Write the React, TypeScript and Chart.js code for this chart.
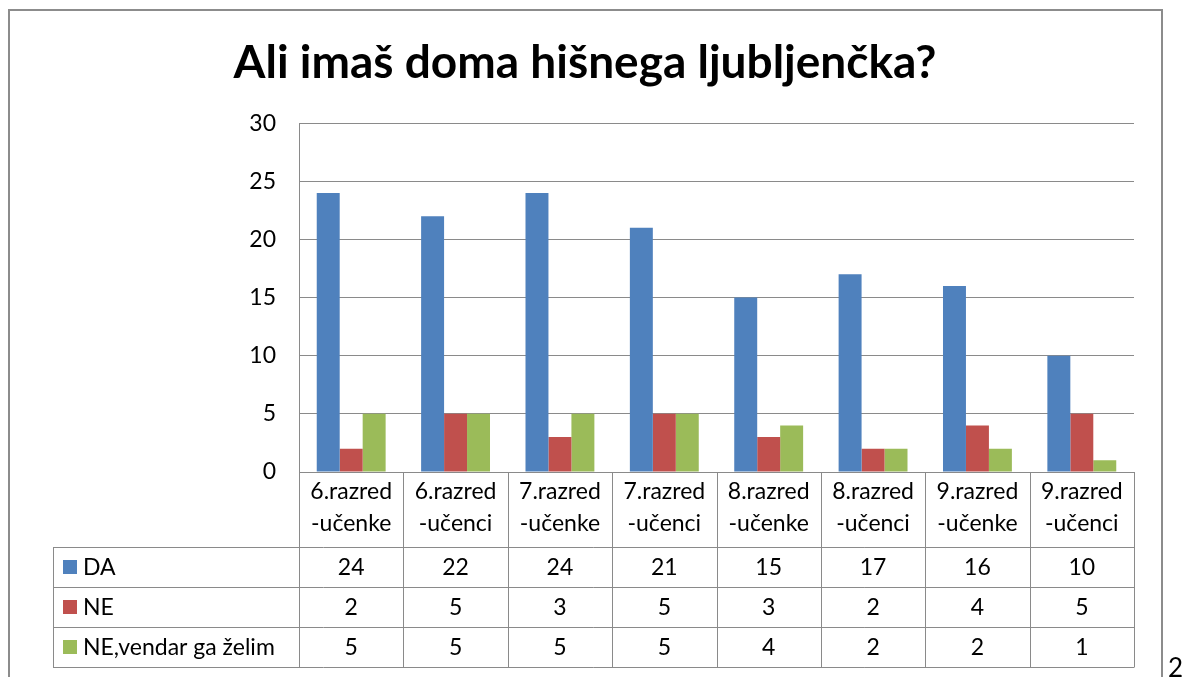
import { useEffect, useRef } from "react";
import { Chart, registerables } from "chart.js";

Chart.register(...registerables);

const titleText = "Ali imaš doma hišnega ljubljenčka?";
const categories: string[][] = [
  ["6.razred", "-učenke"],
  ["6.razred", "-učenci"],
  ["7.razred", "-učenke"],
  ["7.razred", "-učenci"],
  ["8.razred", "-učenke"],
  ["8.razred", "-učenci"],
  ["9.razred", "-učenke"],
  ["9.razred", "-učenci"],
];
const seriesNames = ["DA", "NE", "NE,vendar ga želim"];
const daValues = [24, 22, 24, 21, 15, 17, 16, 10];
const neValues = [2, 5, 3, 5, 3, 2, 4, 5];
const zelimValues = [5, 5, 5, 5, 4, 2, 2, 1];
const seriesColors = ["#4F81BD", "#C0504D", "#9BBB59"];
const yMin = 0;
const yMax = 30;
const yStep = 5;
const pageNumber = "2";

const FONT = "Lato, 'Open Sans', sans-serif";
const LINE = "#8a8a8a";

const tablePlugin = {
  id: "dataTable",
  afterDraw(chart: any) {
    const { ctx, chartArea, scales } = chart;
    const x = scales.x;
    const n = categories.length;
    const bounds: number[] = [];
    for (let i = 0; i <= n; i++) bounds.push(x.getPixelForValue(i - 0.5));
    const headerH = 75;
    const rowH = 40;
    const tableLeft = 53;
    const top = chartArea.bottom;
    const rowTops = [top + headerH, top + headerH + rowH, top + headerH + 2 * rowH];
    const bottom = top + headerH + 3 * rowH;
    const data = [daValues, neValues, zelimValues];

    ctx.save();
    ctx.strokeStyle = LINE;
    ctx.lineWidth = 1;
    ctx.beginPath();
    bounds.forEach((b) => {
      const bx = Math.round(b) + 0.5;
      ctx.moveTo(bx, top);
      ctx.lineTo(bx, bottom);
    });
    [...rowTops, bottom].forEach((ry) => {
      const yy = Math.round(ry) + 0.5;
      ctx.moveTo(tableLeft, yy);
      ctx.lineTo(Math.round(bounds[n]) + 0.5, yy);
    });
    ctx.moveTo(tableLeft + 0.5, rowTops[0]);
    ctx.lineTo(tableLeft + 0.5, bottom);
    ctx.stroke();

    ctx.font = `23px ${FONT}`;
    ctx.fillStyle = "#000";
    ctx.textBaseline = "middle";
    data.forEach((vals, r) => {
      const cy = rowTops[r] + rowH / 2;
      ctx.textAlign = "center";
      vals.forEach((v, i) => {
        ctx.fillText(String(v), (bounds[i] + bounds[i + 1]) / 2, cy + 1);
      });
      ctx.fillStyle = seriesColors[r];
      ctx.fillRect(tableLeft + 10, cy - 7, 14, 14);
      ctx.fillStyle = "#000";
      ctx.textAlign = "left";
      ctx.fillText(seriesNames[r], tableLeft + 30, cy + 1);
    });

    // outer frame and page number
    ctx.strokeStyle = "#8c8c8c";
    ctx.lineWidth = 2;
    ctx.strokeRect(9, 10, 1153, 700);
    ctx.font = `26px ${FONT}`;
    ctx.textAlign = "left";
    ctx.textBaseline = "top";
    ctx.fillStyle = "#000";
    ctx.fillText(pageNumber, 1168, 656);
    ctx.restore();
  },
};

export default function App() {
  const ref = useRef<HTMLCanvasElement | null>(null);
  useEffect(() => {
    if (!ref.current) return;
    const chart = new Chart(ref.current, {
      type: "bar",
      data: {
        labels: categories,
        datasets: [daValues, neValues, zelimValues].map((d, i) => ({
          label: seriesNames[i],
          data: d,
          backgroundColor: seriesColors[i],
          borderWidth: 0,
          barPercentage: 1,
          categoryPercentage: 0.66,
        })),
      },
      options: {
        animation: false,
        responsive: false,
        devicePixelRatio: 1,
        layout: { padding: { left: 36, right: 48, top: 0, bottom: 0 } },
        plugins: {
          legend: { display: false },
          tooltip: { enabled: false },
          title: {
            display: true,
            text: titleText,
            color: "#000",
            font: { family: FONT, size: 46, weight: "bold", lineHeight: 1.2 },
            padding: { top: 36, bottom: 32 },
          },
        },
        scales: {
          x: {
            grid: { display: false, drawTicks: false },
            border: { display: true, color: LINE },
            ticks: {
              color: "#000",
              font: { family: FONT, size: 23, lineHeight: "32px" },
              padding: 4,
              autoSkip: false,
              maxRotation: 0,
              minRotation: 0,
            },
            afterFit: (s: any) => {
              s.height = 205;
            },
          },
          y: {
            min: yMin,
            max: yMax,
            grid: { color: LINE, drawTicks: false },
            border: { display: true, color: LINE },
            ticks: {
              stepSize: yStep,
              color: "#000",
              font: { family: FONT, size: 23 },
              padding: 23,
            },
            afterFit: (s: any) => {
              s.width = 263;
            },
          },
        },
      },
      plugins: [tablePlugin],
    });
    return () => chart.destroy();
  }, []);
  return (
    <div style={{ position: "fixed", left: 0, top: 0, width: 1182, height: 677, background: "#fff" }}>
      <canvas ref={ref} width={1182} height={677} style={{ display: "block" }} />
    </div>
  );
}
